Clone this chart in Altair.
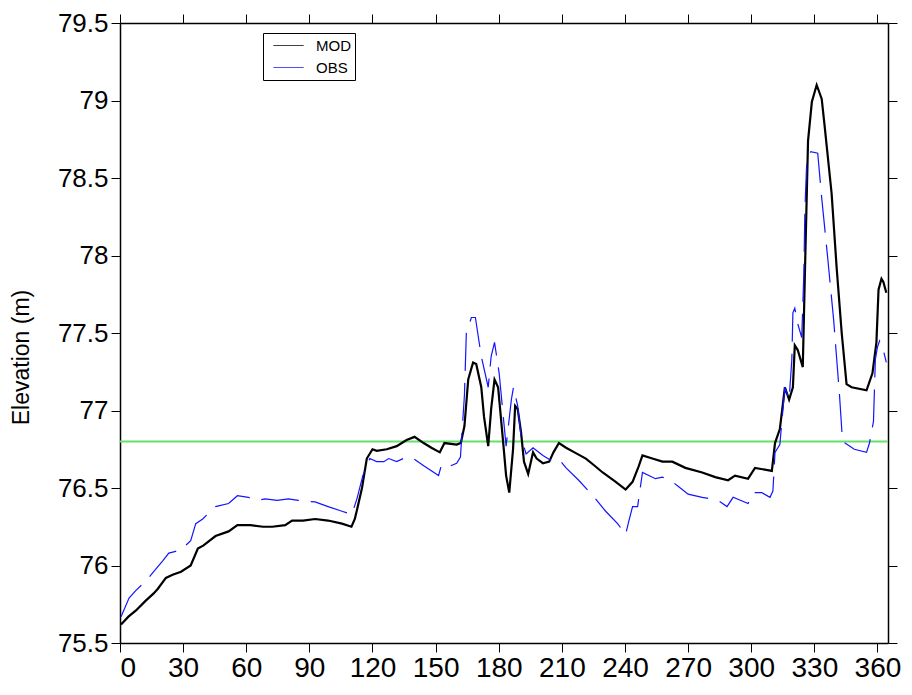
import altair as alt
import pandas as pd

# ---- data ----
mod_day = [0.5, 4, 7.6, 12, 16, 18, 21.8, 25, 29, 33.6, 37, 39.7, 45.4, 51.6, 55.8, 62, 68, 72.4,
           78.5, 81.8, 87, 92.7, 98.9, 105.5, 110, 111.6, 113, 115, 117.3, 120, 122, 126.8, 131.5,
           136.2, 140, 144.3, 148, 152, 154.2, 160, 162, 163.7, 165.5, 167.8, 169.3, 171.7, 173,
           175, 176.4, 178, 179.7, 182, 183.5, 185, 186.8, 187.8, 189, 190.6, 192, 194, 196.3, 198,
           201, 204, 206, 208.6, 212, 216, 221.4, 225, 229.4, 235.6, 240.3, 243.6, 246.5, 248.3,
           253, 257.8, 262.5, 268.7, 276.7, 282.9, 289, 292.3, 298.5, 301.8, 309.8, 311.3, 313.6,
           316, 318, 319.8, 320.7, 322.1, 324.5, 325.5, 327, 328.8, 331.1, 333.5, 335, 338.2, 340.6,
           343, 345.3, 347.7, 354.8, 357.6, 359.5, 360.5, 361.9, 362.8, 364.2]
mod_elev = [75.62, 75.67, 75.71, 75.77, 75.82, 75.85, 75.92, 75.94, 75.96, 76.00, 76.11, 76.13, 76.19,
            76.22, 76.26, 76.26, 76.25, 76.25, 76.26, 76.29, 76.29, 76.30, 76.29, 76.27, 76.25, 76.30,
            76.38, 76.50, 76.69, 76.75, 76.74, 76.75, 76.77, 76.81, 76.83, 76.79, 76.76, 76.73, 76.79,
            76.78, 76.79, 76.90, 77.20, 77.31, 77.30, 77.15, 76.96, 76.77, 77.01, 77.20, 77.15, 76.81,
            76.58, 76.47, 76.75, 77.03, 77.01, 76.86, 76.67, 76.59, 76.73, 76.69, 76.66, 76.67, 76.73,
            76.79, 76.76, 76.73, 76.69, 76.65, 76.60, 76.54, 76.49, 76.54, 76.64, 76.71, 76.69, 76.67,
            76.67, 76.63, 76.60, 76.57, 76.55, 76.58, 76.56, 76.63, 76.61, 76.79, 76.88, 77.15, 77.07,
            77.15, 77.42, 77.39, 77.28, 77.88, 78.74, 78.99, 79.10, 79.01, 78.82, 78.40, 77.92, 77.50,
            77.17, 77.15, 77.13, 77.24, 77.44, 77.78, 77.85, 77.83, 77.76]

obs_day = [0.5, 4.3, 7.6, 12.3, 16, 20.3, 23.2, 26, 28.9, 33.6, 36, 39.3, 45.4, 51.6, 55.8, 61, 65, 69,
           74.7, 80, 84.7, 92.7, 98.9, 105.5, 110.2, 112.6, 115.4, 118.7, 122, 125.4, 127.7, 131.5,
           136.2, 139.5, 144.7, 151.4, 152.8, 156.6, 160, 161.8, 163.7, 164.6, 167, 168.9, 171.7, 175,
           176.4, 178, 180.2, 183.5, 186, 187, 189, 190.6, 193, 196.3, 201, 205.8, 209, 212, 218, 226,
           230.8, 236.5, 240.3, 241.7, 243.6, 246, 248.3, 254.5, 257.8, 262.5, 265.4, 270, 276.7,
           284.3, 288.5, 291.4, 298.5, 300.8, 305, 308.9, 310.3, 311.3, 313.6, 316, 318, 319.3, 319.8,
           320.7, 322.1, 324, 325, 325.5, 326.4, 328.3, 331.6, 333.5, 336.3, 339.2, 342, 343.4, 349,
           354.8, 356.2, 358.1, 359, 360, 361, 362.4, 364.2]
obs_elev = [75.67, 75.79, 75.84, 75.90, 75.96, 76.03, 76.08, 76.09, 76.10, 76.16, 76.27, 76.30, 76.38,
            76.40, 76.45, 76.44, 76.42, 76.43, 76.42, 76.43, 76.42, 76.41, 76.38, 76.35, 76.33, 76.43,
            76.58, 76.69, 76.67, 76.67, 76.69, 76.67, 76.70, 76.69, 76.64, 76.58, 76.65, 76.64, 76.66,
            76.70, 77.10, 77.50, 77.60, 77.60, 77.35, 77.15, 77.35, 77.44, 77.24, 76.77, 77.07, 77.15,
            77.03, 76.83, 76.72, 76.76, 76.71, 76.67, 76.68, 76.63, 76.55, 76.43, 76.35, 76.27, 76.20,
            76.28, 76.38, 76.38, 76.60, 76.56, 76.57, 76.54, 76.51, 76.46, 76.44, 76.42, 76.38, 76.44,
            76.40, 76.47, 76.47, 76.44, 76.48, 76.73, 76.78, 77.15, 77.07, 77.33, 77.63, 77.66, 77.56,
            77.47, 77.88, 78.29, 78.61, 78.67, 78.66, 78.37, 77.99, 77.58, 77.09, 76.80, 76.75, 76.73,
            76.79, 76.93, 77.33, 77.41, 77.45, 77.41, 77.31]

ref_level = 76.8
x_domain = [0, 365]
y_domain = [75.5, 79.5]
x_ticks = [0, 30, 60, 90, 120, 150, 180, 210, 240, 270, 300, 330, 360]
y_ticks = [75.5, 76, 76.5, 77, 77.5, 78, 78.5, 79, 79.5]
series_names = ["MOD", "OBS"]
series_colors = ["#000000", "#1414ff"]

mod_df = pd.DataFrame({"day": mod_day, "elev": mod_elev, "series": "MOD"})
obs_df = pd.DataFrame({"day": obs_day, "elev": obs_elev, "series": "OBS"})
ref_df = pd.DataFrame({"x0": [x_domain[0]], "x1": [x_domain[1]], "y": [ref_level]})

xs = alt.Scale(domain=x_domain, nice=False, zero=False)
ys = alt.Scale(domain=y_domain, nice=False, zero=False)
cs = alt.Scale(domain=series_names, range=series_colors)

tick_common = dict(domainColor="black", domainWidth=1.5, tickColor="black", tickWidth=1,
                   tickSize=9, grid=False)

x_bottom = alt.Axis(values=x_ticks, title=None, labelFont="Liberation Sans",
                    labelFontSize=28, labelColor="black", labelPadding=2, **tick_common)
y_left = alt.Axis(values=y_ticks, format=".1~f", title="Elevation (m)", labelFont="Liberation Sans",
                  labelFontSize=26, labelColor="black", labelPadding=3,
                  titleFont="Liberation Sans", titleFontSize=23, titleFontWeight="normal",
                  titleColor="black", titleX=-99, titleY=334, titleAlign="center",
                  titleBaseline="middle", **tick_common)
x_top = alt.Axis(orient="top", values=x_ticks, labels=False, title=None, **tick_common)
y_right = alt.Axis(orient="right", values=y_ticks, labels=False, title=None, **tick_common)

ref_rule = alt.Chart(ref_df).mark_rule(color="#66e066", strokeWidth=2).encode(
    x=alt.X("x0:Q", scale=xs, axis=x_top),
    x2="x1:Q",
    y=alt.Y("y:Q", scale=ys, axis=y_right),
)

legend = alt.Legend(title=None, orient="none", legendX=143, legendY=10, strokeColor="black",
                    fillColor="white", padding=4, labelFont="Liberation Sans", labelFontSize=15,
                    labelColor="black", labelOffset=12, symbolType="stroke", symbolSize=900,
                    symbolStrokeWidth=1, symbolDash=[1, 0], symbolOffset=6, clipHeight=17,
                    rowPadding=5)

mod_line = alt.Chart(mod_df).mark_line(strokeWidth=2.2).encode(
    x=alt.X("day:Q", scale=xs, axis=x_bottom),
    y=alt.Y("elev:Q", scale=ys, axis=y_left),
    color=alt.Color("series:N", scale=cs, legend=legend),
)

obs_line = alt.Chart(obs_df).mark_line(strokeWidth=1.2, strokeDash=[38, 12]).encode(
    x=alt.X("day:Q", scale=xs, axis=None),
    y=alt.Y("elev:Q", scale=ys, axis=None),
    color=alt.Color("series:N", scale=cs, legend=legend),
)

chart = alt.layer(ref_rule, mod_line, obs_line).resolve_axis(
    x="independent", y="independent"
).properties(
    width=768, height=620,
    padding={"left": 112, "top": 15, "right": 16, "bottom": 42},
    autosize=alt.AutoSizeParams(type="none"),
    background="white",
).configure_view(stroke=None)

chart.save("out.html", embed_options={"renderer": "svg", "actions": False})
